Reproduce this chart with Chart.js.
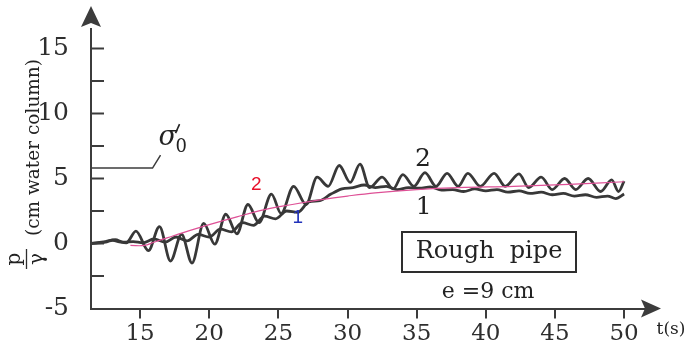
<!DOCTYPE html>
<html>
<head>
<meta charset="utf-8">
<style>
html, body { margin: 0; padding: 0; background: #fff; }
</style>
<script src="https://cdn.jsdelivr.net/npm/chart.js@4/dist/chart.umd.min.js"></script>
</head>
<body>
<canvas id="chart-pressure" width="687" height="353"></canvas>
<script>
const xTicks = [15, 20, 25, 30, 35, 40, 45, 50];
const yTicks = [-5, 0, 5, 10, 15];
const yMarks = [-2.5, 0, 2.5, 5, 7.5, 10, 12.5, 15];

const tCurve2 = [11.45, 12.5, 13.0, 13.6, 14.0, 14.7, 15.6, 16.4, 17.2, 18.0, 18.75, 19.6, 20.4, 21.2, 22.0,
  22.8, 23.6, 24.5, 25.2, 26.1, 27.0, 27.8, 28.6, 29.4, 30.2, 30.9, 31.6, 32.5, 33.3, 34.0, 34.8, 35.6,
  36.4, 37.2, 38.0, 38.7, 39.6, 40.6, 41.4, 42.4, 43.1, 44.0, 44.8, 45.7, 46.5, 47.4, 48.3, 49.1, 49.6, 50.0];
const pCurve2 = [0.0, 0.1, 0.25, 0.1, 0.05, 0.95, -0.55, 1.3, -1.35, 0.7, -1.5, 1.55, -0.05, 2.25, 0.75,
  3.0, 1.6, 3.8, 2.3, 4.4, 3.0, 5.1, 4.4, 6.0, 4.7, 6.1, 4.3, 5.1, 4.2, 5.3, 4.4, 5.45,
  4.4, 5.4, 4.4, 5.4, 4.4, 5.4, 4.4, 5.35, 4.3, 5.1, 4.15, 5.0, 4.15, 5.0, 4.0, 4.9, 4.0, 4.8];

// curve 1 (weaker oscillation)
const tCurve1 = [11.45, 12.5, 13.2, 13.8, 14.5, 15.2, 16.0, 16.8, 17.6, 18.4, 19.2, 20.0, 20.8, 21.6, 22.4,
  23.2, 24.0, 24.8, 25.6, 26.4, 27.2, 28.0, 28.8, 29.6, 30.4, 31.2, 32.0, 32.8, 33.6, 34.4, 35.2, 36.0,
  36.8, 37.6, 38.4, 39.2, 40.0, 40.8, 41.6, 42.4, 43.2, 44.0, 44.8, 45.6, 46.4, 47.2, 48.0, 48.8, 49.4, 50.0];
const pCurve1 = [0.0, 0.15, 0.3, 0.1, 0.15, 0.05, 0.35, 0.1, 0.5, 0.2, 0.7, 0.5, 1.1, 0.9, 1.6,
  1.4, 2.1, 1.9, 2.5, 2.4, 3.2, 3.3, 3.8, 4.2, 4.3, 4.5, 4.3, 4.4, 4.15, 4.3, 4.25, 4.35,
  4.1, 4.15, 4.0, 4.2, 4.05, 4.15, 3.95, 4.05, 3.85, 3.95, 3.75, 3.85, 3.65, 3.75, 3.55, 3.65, 3.45, 3.8];

// smooth mean line
const tMean = [14.3, 15.3, 16.0, 17.0, 18.0, 20.0, 22.0, 24.0, 26.0, 28.0, 30.0, 32.0, 35.0, 38.0, 42.0, 46.0, 50.0];
const pMean = [-0.15, -0.15, 0.1, 0.45, 0.8, 1.45, 2.05, 2.6, 3.0, 3.35, 3.65, 3.9, 4.15, 4.3, 4.4, 4.55, 4.75];

const sigmaLevel = 5.8;

const axisColor = '#3c3c3c';
const inkColor = '#2e2e2e';

function toPoints(ts, vs) {
    return ts.map((t, i) => ({ x: t, y: vs[i] }));
}

const decor = {
    id: 'decor',
    afterDraw(chart) {
        const { ctx, chartArea: a, scales: { x, y } } = chart;
        ctx.save();
        ctx.strokeStyle = axisColor;
        ctx.fillStyle = axisColor;
        ctx.lineWidth = 2;

        // inward ticks on the y axis
        yMarks.forEach(v => {
            const py = y.getPixelForValue(v);
            ctx.beginPath();
            ctx.moveTo(a.left, py);
            ctx.lineTo(a.left + 13, py);
            ctx.stroke();
        });

        // arrow heads
        ctx.beginPath();
        ctx.moveTo(a.left, 6);
        ctx.lineTo(a.left + 10, 27);
        ctx.lineTo(a.left, 23);
        ctx.lineTo(a.left - 10, 27);
        ctx.closePath();
        ctx.fill();
        ctx.beginPath();
        ctx.moveTo(661, a.bottom);
        ctx.lineTo(641, a.bottom - 9);
        ctx.lineTo(645, a.bottom);
        ctx.lineTo(641, a.bottom + 9);
        ctx.closePath();
        ctx.fill();

        // sigma'0 leader
        const sy = y.getPixelForValue(sigmaLevel);
        const sx = x.getPixelForValue(15.9);
        ctx.lineWidth = 1.5;
        ctx.beginPath();
        ctx.moveTo(a.left, sy);
        ctx.lineTo(sx, sy);
        ctx.lineTo(sx + 8, sy - 13);
        ctx.stroke();

        ctx.fillStyle = '#222';
        ctx.textAlign = 'left';
        ctx.textBaseline = 'alphabetic';
        ctx.font = 'italic 27px "DejaVu Serif"';
        ctx.fillText('σ', sx + 6, sy - 23);
        // prime stroke
        ctx.lineWidth = 1.6;
        ctx.strokeStyle = '#222';
        ctx.beginPath();
        ctx.moveTo(sx + 27, sy - 44);
        ctx.lineTo(sx + 23, sy - 35);
        ctx.stroke();
        ctx.font = '18px "DejaVu Serif"';
        ctx.fillText('0', sx + 23, sy - 16);

        // curve labels
        ctx.textAlign = 'center';
        ctx.textBaseline = 'middle';
        ctx.font = '19px "Liberation Sans"';
        ctx.fillStyle = '#e8102a';
        ctx.fillText('2', x.getPixelForValue(23.4), y.getPixelForValue(4.5));
        ctx.fillStyle = '#2233bb';
        ctx.fillText('1', x.getPixelForValue(26.4), y.getPixelForValue(1.95));
        ctx.fillStyle = '#222';
        ctx.font = '25px "DejaVu Serif"';
        ctx.fillText('2', x.getPixelForValue(35.45), y.getPixelForValue(6.5));
        ctx.fillText('1', x.getPixelForValue(35.5), y.getPixelForValue(2.8));

        // box
        ctx.strokeStyle = inkColor;
        ctx.lineWidth = 2;
        ctx.strokeRect(402, 232, 174, 40);
        ctx.fillStyle = '#222';
        ctx.font = '24px "DejaVu Serif"';
        ctx.fillText('Rough  pipe', 489, 252);
        ctx.font = '22px "DejaVu Serif"';
        ctx.fillText('e =9 cm', 488, 292);

        // x axis unit
        ctx.font = '17px "DejaVu Serif"';
        ctx.fillText('t(s)', 671, 330);

        // y axis title
        ctx.save();
        ctx.translate(39, 236);
        ctx.rotate(-Math.PI / 2);
        ctx.textAlign = 'left';
        ctx.textBaseline = 'alphabetic';
        ctx.font = '18.5px "DejaVu Serif"';
        ctx.fillText('(cm water column)', 0, 0);
        ctx.restore();

        ctx.save();
        ctx.translate(26, 259);
        ctx.rotate(-Math.PI / 2);
        ctx.textAlign = 'center';
        ctx.font = '20px "DejaVu Serif"';
        ctx.textBaseline = 'bottom';
        ctx.fillText('p', 0, -1);
        ctx.textBaseline = 'top';
        ctx.fillText('γ', 0, 2);
        ctx.lineWidth = 1.3;
        ctx.beginPath();
        ctx.moveTo(-10, 0.5);
        ctx.lineTo(10, 0.5);
        ctx.stroke();
        ctx.restore();

        ctx.restore();
    }
};

new Chart(document.getElementById('chart-pressure'), {
    type: 'line',
    data: {
        datasets: [{
            label: 'mean',
            data: toPoints(tMean, pMean),
            borderColor: 'rgb(222, 80, 150)',
            borderWidth: 1.2,
            tension: 0.4,
            pointRadius: 0,
            order: 0,
        }, {
            label: '2',
            data: toPoints(tCurve2, pCurve2),
            borderColor: '#383838',
            borderWidth: 2.8,
            cubicInterpolationMode: 'monotone',
            pointRadius: 0,
            order: 1,
        }, {
            label: '1',
            data: toPoints(tCurve1, pCurve1),
            borderColor: '#383838',
            borderWidth: 2.8,
            cubicInterpolationMode: 'monotone',
            pointRadius: 0,
            order: 2,
        }]
    },
    options: {
        responsive: false,
        animation: false,
        layout: { padding: { left: 0, top: 18, right: 38, bottom: 0 } },
        plugins: { legend: { display: false }, tooltip: { enabled: false } },
        scales: {
            x: {
                type: 'linear',
                min: 11.45,
                max: 51.8,
                afterBuildTicks: s => { s.ticks = xTicks.map(v => ({ value: v })); },
                afterFit: s => { s.height = 44.5; },
                border: { display: true, color: axisColor, width: 2 },
                grid: { display: true, drawOnChartArea: false, drawTicks: true, tickLength: 10, color: axisColor, lineWidth: 2 },
                ticks: { color: inkColor, padding: 2, maxRotation: 0, font: { family: 'DejaVu Serif', size: 23 } }
            },
            y: {
                min: -5,
                max: 16.5,
                afterBuildTicks: s => { s.ticks = yTicks.map(v => ({ value: v })); },
                afterFit: s => { s.width = 91; },
                border: { display: true, color: axisColor, width: 2 },
                grid: { display: false },
                ticks: { color: inkColor, padding: 14, font: { family: 'DejaVu Serif', size: 25 } }
            }
        }
    },
    plugins: [decor]
});
</script>
</body>
</html>
